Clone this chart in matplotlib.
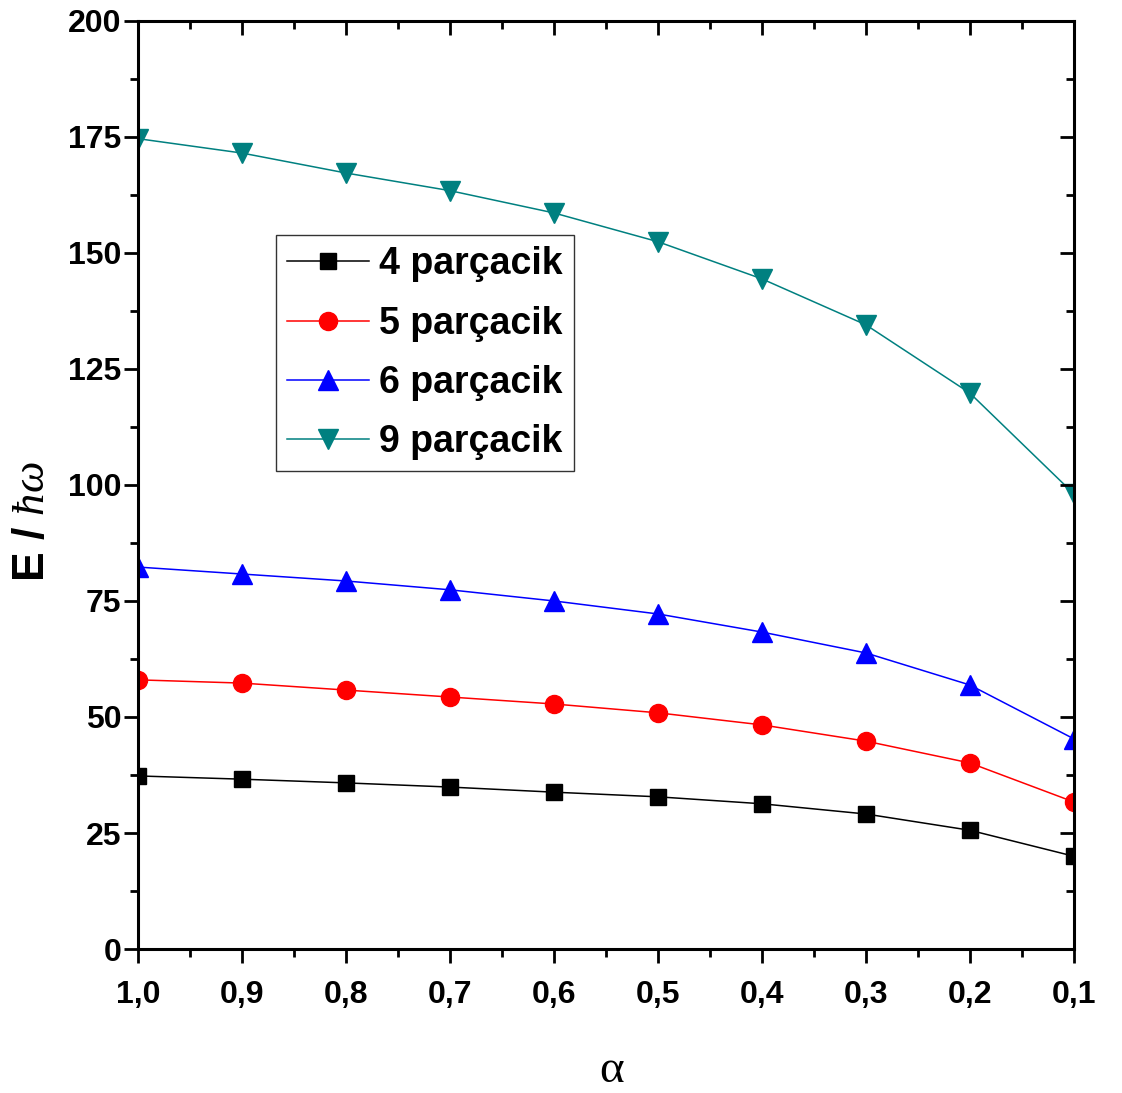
import matplotlib
matplotlib.use("Agg")
import matplotlib.pyplot as plt
from matplotlib.ticker import MultipleLocator, FixedLocator, FixedFormatter

plt.rcParams["font.family"] = ["Liberation Sans", "DejaVu Sans"]
plt.rcParams["mathtext.fontset"] = "custom"
plt.rcParams["mathtext.rm"] = "Liberation Serif"
plt.rcParams["mathtext.it"] = "Liberation Serif:italic"

alpha = [1.0, 0.9, 0.8, 0.7, 0.6, 0.5, 0.4, 0.3, 0.2, 0.1]
alpha_labels = ["1,0", "0,9", "0,8", "0,7", "0,6", "0,5", "0,4", "0,3", "0,2", "0,1"]

e4 = [37.3, 36.6, 35.8, 34.9, 33.8, 32.8, 31.3, 29.1, 25.6, 20.0]
e5 = [58.0, 57.3, 55.8, 54.3, 52.8, 50.9, 48.3, 44.8, 40.1, 31.7]
e6 = [82.3, 80.8, 79.3, 77.4, 75.0, 72.2, 68.3, 63.8, 56.9, 45.3]
e9 = [174.6, 171.5, 167.2, 163.4, 158.6, 152.4, 144.4, 134.5, 119.8, 98.1]

series = [
    (e4, "4 parçacik", "black", "s", 11),
    (e5, "5 parçacik", "red", "o", 13),
    (e6, "6 parçacik", "blue", "^", 14),
    (e9, "9 parçacik", "#008080", "v", 14),
]

fig = plt.figure(figsize=(11.22, 10.93), dpi=100)
ax = fig.add_axes([0.123, 0.1317, 0.834, 0.8493])

for vals, lab, col, mk, ms in series:
    ax.plot(alpha, vals, color=col, lw=1.1, marker=mk, ms=ms,
            markerfacecolor=col, markeredgecolor=col, label=lab)

ax.set_xlim(1.0, 0.1)
ax.set_ylim(0, 200)
ax.xaxis.set_major_locator(FixedLocator(alpha))
ax.xaxis.set_major_formatter(FixedFormatter(alpha_labels))
ax.xaxis.set_minor_locator(MultipleLocator(0.05))
ax.yaxis.set_major_locator(MultipleLocator(25))
ax.yaxis.set_minor_locator(MultipleLocator(12.5))

for s in ax.spines.values():
    s.set_linewidth(2.2)

ax.tick_params(which="both", width=2, labelsize=23)
ax.tick_params(which="major", length=10)
ax.tick_params(which="minor", length=6)
ax.tick_params(axis="x", which="both", direction="out", pad=12)
ax.tick_params(axis="y", which="both", direction="out", pad=2)
# mirrored ticks on top/right point inwards
ax2 = ax.twiny()
ax2.set_xlim(ax.get_xlim())
ax2.xaxis.set_major_locator(FixedLocator(alpha))
ax2.xaxis.set_minor_locator(MultipleLocator(0.05))
ax2.tick_params(axis="x", which="both", direction="in", width=2, labeltop=False)
ax2.tick_params(which="major", length=10)
ax2.tick_params(which="minor", length=6)
ax3 = ax.twinx()
ax3.set_ylim(ax.get_ylim())
ax3.yaxis.set_major_locator(MultipleLocator(25))
ax3.yaxis.set_minor_locator(MultipleLocator(12.5))
ax3.tick_params(axis="y", which="both", direction="in", width=2, labelright=False)
ax3.tick_params(which="major", length=10)
ax3.tick_params(which="minor", length=6)

for lbl in ax.get_xticklabels() + ax.get_yticklabels():
    lbl.set_fontweight("bold")

ax.set_xlabel(r"$\mathrm{\alpha}$", fontsize=34, va="center")
ax.xaxis.set_label_coords(0.506, -0.13)
ax.set_ylabel(r"E / $\hbar\omega$", fontsize=32, fontweight="bold", va="center")
ax.yaxis.set_label_coords(-0.113, 0.46)

leg = ax.legend(loc="upper left", bbox_to_anchor=(0.147, 0.769),
                frameon=True, fancybox=False, edgecolor="black", handlelength=2.2,
                handletextpad=0.25, borderpad=0.3, labelspacing=0.62,
                borderaxespad=0, prop={"weight": "bold", "size": 27})
leg.get_frame().set_linewidth(1.0)

fig.savefig("out.png", dpi=100)
